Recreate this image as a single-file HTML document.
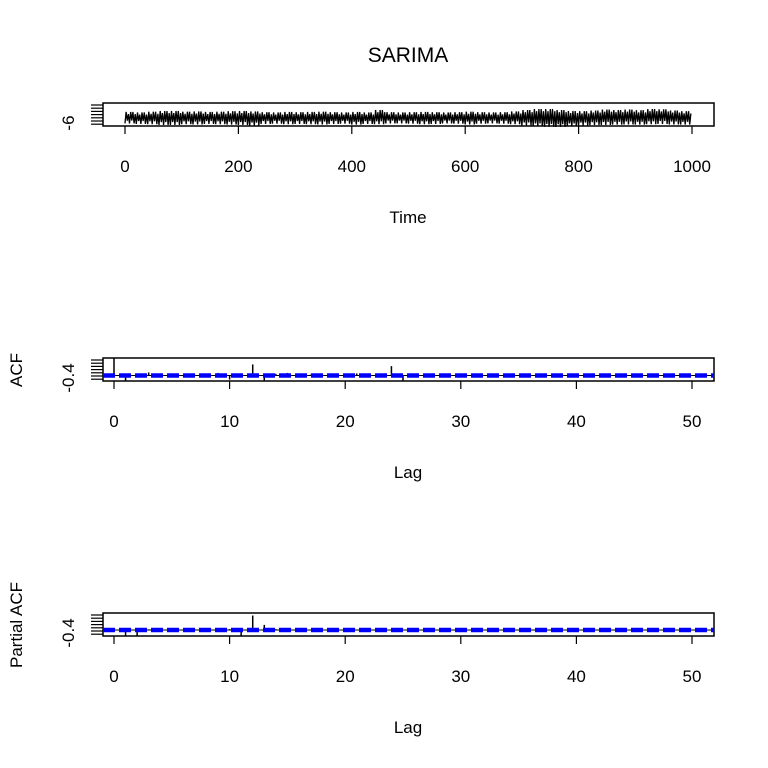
<!DOCTYPE html>
<html><head><meta charset="utf-8"><style>
html,body{margin:0;padding:0;background:#fff}
svg{display:block;font-family:"Liberation Sans",sans-serif}
</style></head><body>
<svg id="c" width="768" height="768">
<text x="408" y="62" font-size="21" text-anchor="middle">SARIMA</text>
</svg>
<script>
// Series envelope (per 20-unit bin): upper and lower values
const tsHigh = [-3.6,-3.4,-3.3,-3.0,-3.0,-3.3,-3.2,-3.4,-3.3,-3.1,-3.0,-2.8,-3.4,-3.5,-3.3,-3.4,-3.3,-3.2,-3.4,-3.5,-3.1,-3.4,-3.3,-3.6,-3.6,-3.5,-3.3,-3.4,-3.6,-3.5,-3.2,-3.5,-3.6,-3.5,-3.3,-2.8,-2.4,-2.2,-2.1,-2.4,-2.8,-2.9,-3.0,-3.1,-3.2,-3.1,-3.3,-3.4,-3.2,-3.1];
const tsLow = [-7.8,-7.6,-7.9,-8.2,-8.2,-7.9,-8.0,-7.8,-7.9,-8.1,-8.2,-8.0,-7.7,-7.6,-7.8,-7.7,-7.8,-7.9,-7.7,-7.6,-7.8,-7.6,-8.6,-7.7,-7.6,-7.7,-7.8,-7.7,-7.6,-7.7,-7.9,-7.7,-7.6,-7.7,-8.0,-8.6,-9.0,-9.0,-8.6,-8.2,-8.1,-8.4,-8.8,-8.6,-8.8,-8.5,-9.0,-8.9,-8.4,-8.1];
const acfLags = [0,1,2,3,4,5,6,7,8,9,10,11,12,13,14,15,16,17,18,19,20,21,22,23,24,25,26,27];
const acfVals = [1,-0.33,-0.05,0.18,-0.05,0.03,-0.05,0.04,-0.08,0.15,-0.24,-0.05,0.65,-0.4,0.1,0.15,-0.12,0.05,0.04,-0.05,0.02,0.12,-0.06,-0.05,0.55,-0.35,0.03,0.1];
const pacfLags = [1,2,3,4,5,6,7,8,9,10,11,12,13,14,15,16,17,18,19,20];
const pacfVals = [-0.42,-0.45,0.04,-0.03,0.02,0.02,0.04,-0.05,0.06,0.05,-0.45,0.85,0.3,0.05,-0.03,0.02,0.03,0.02,-0.02,0.02];
const timeTicks = [0,200,400,600,800,1000];
const lagTicks = [0,10,20,30,40,50];
const ciBound = 0.06;

const svg = document.getElementById('c');
const NS = 'http://www.w3.org/2000/svg';
function mk(tag, a, p){const e=document.createElementNS(NS,tag);for(const k in a)e.setAttribute(k,a[k]);(p||svg).appendChild(e);return e;}

function frame(top, name, ylab){
  const b = mk('rect',{x:103,y:top,width:611,height:23,fill:'none',stroke:'#000','stroke-width':1.5});
  
  
  for(let i=0;i<7;i++){const t=mk('line',{x1:91,x2:103,y1:top+2+i*3.2,y2:top+2+i*3.2,stroke:'#000','stroke-width':1.2});
    
    }
  const yl=mk('text',{x:0,y:0,'font-size':17,'text-anchor':'middle',transform:`translate(74,${top+20}) rotate(-90)`});
  yl.textContent=ylab;
  
  
}
function xaxis(top, ticks, sx, label, name){
  ticks.forEach(v=>{const x=sx(v);
    const l=mk('line',{x1:x,x2:x,y1:top+23,y2:top+31,stroke:'#000','stroke-width':1.2});
    
    
    const t=mk('text',{x:x,y:top+69,'font-size':17,'text-anchor':'middle'});t.textContent=v;
    
    });
  const t=mk('text',{x:408,y:top+120,'font-size':17,'text-anchor':'middle'});t.textContent=label;
  
  
}

// Top: time series
const sxT = v=>125+v*0.567;
const syT = v=>116 + (v+5.5)*2.4;
frame(103,'series','-6');
xaxis(103,timeTicks,sxT,'Time','series');
let d='';
for(let i=0;i<tsHigh.length;i++){
  for(let k=0;k<10;k++){
    const t=i*20+k*2; if(t>1000)break;
    const v = (k%2===0)? tsHigh[i]+ (k%4===0?1.2:0) : tsLow[i] + (k%3===0?1.5:0.6);
    d += (d?'L':'M')+sxT(t).toFixed(1)+','+syT(v).toFixed(1);
  }
}
const sl=mk('path',{d:d,fill:'none',stroke:'#000','stroke-width':1.3});



const sxL = v=>114+v*11.56;
function corrPanel(top, zeroY, lags, vals, name, ylab){
  frame(top,name,'-0.4');
  const yt=mk('text',{x:0,y:0,'font-size':17,'text-anchor':'middle',transform:`translate(22,${top+12}) rotate(-90)`});
  yt.textContent=ylab;
  
  
  xaxis(top,lagTicks,sxL,'Lag',name);
  const sy=v=>zeroY - v*17;
  const z=mk('line',{x1:103,x2:714,y1:zeroY,y2:zeroY,stroke:'#000','stroke-width':1});
  
  
  lags.forEach((lag,i)=>{
    const y2=Math.max(top,Math.min(top+23,sy(vals[i])));
    const l=mk('line',{x1:sxL(lag),x2:sxL(lag),y1:zeroY,y2:y2,stroke:'#000','stroke-width':1.5});
    
    
  });
  [ciBound,-ciBound].forEach(c=>{
    const l=mk('line',{x1:103,x2:714,y1:sy(c),y2:sy(c),stroke:'#0000ff','stroke-width':2.5,'stroke-dasharray':'12,4'});
    
    
  });
}
corrPanel(358,375.5,acfLags,acfVals,'acf','ACF');
corrPanel(613,630,pacfLags,pacfVals,'pacf','Partial ACF');
</script>
</body></html>
